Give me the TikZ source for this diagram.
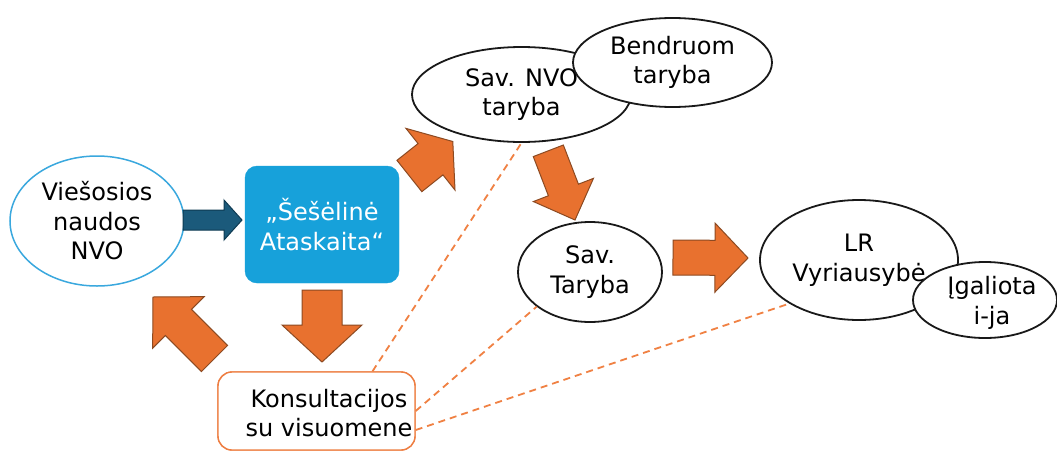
\documentclass[tikz,border=0pt]{standalone}
\usepackage{fontspec}
\setmainfont{DejaVu Sans}
\usetikzlibrary{shapes.geometric,calc}
\definecolor{arrorange}{HTML}{E8712F}
\definecolor{arredge}{HTML}{8C4A22}
\definecolor{navyfill}{HTML}{1B5A7B}
\definecolor{navyedge}{HTML}{0E3A52}
\definecolor{boxblue}{HTML}{17A1DA}
\definecolor{lightblue}{HTML}{3AA8DE}
\definecolor{dashor}{HTML}{F08143}
\definecolor{konsor}{HTML}{EE7E42}
\newcommand\blockarr[6]{% style, tail, tip, half shaft, half head, head length
  \path ($(#3)!#6!(#2)$) coordinate (hb);
  \draw[#1] ($(#2)!#4!90:(#3)$) -- ($(hb)!#4!-90:(#2)$) -- ($(hb)!#5!-90:(#2)$)
    -- (#3) -- ($(hb)!#5!90:(#2)$) -- ($(hb)!#4!90:(#2)$) -- ($(#2)!#4!-90:(#3)$) -- cycle;
}
\tikzset{
  every node/.style={font=\fontsize{24}{29.5}\selectfont, align=center, inner sep=0pt},
  oval/.style={ellipse, draw=black!90, line width=1.8pt, fill=white},
  blueoval/.style={ellipse, draw=lightblue, line width=1.5pt, fill=white},
  bluebox/.style={rectangle, rounded corners=12pt, fill=boxblue, draw=boxblue, text=white},
  konsbox/.style={rectangle, rounded corners=14pt, draw=konsor, line width=1.4pt, fill=white},
  link/.style={draw=dashor, line width=1.8pt, dash pattern=on 7pt off 5pt},
  orangearr/.style={fill=arrorange, draw=arredge, line width=1pt, line join=miter},
  navyarr/.style={fill=navyfill, draw=navyedge, line width=1pt, line join=miter},
}
\begin{document}
\begin{tikzpicture}[x=1pt,y=-1pt]
\useasboundingbox (0,0) rectangle (1057,453);
\fill[white] (0,0) rectangle (1057,453);

% nodes
\node[blueoval, minimum width=174pt, minimum height=130pt] (vnvo) at (97,221) {Viešosios\\naudos\\NVO};
\node[bluebox, minimum width=154pt, minimum height=117pt] (ses) at (322,224.5) {„Šešėlinė\\Ataskaita“};
\node[konsbox, minimum width=197pt, minimum height=78pt] (kons) at (316.5,411) {};
\node[oval, minimum width=219pt, minimum height=95pt] (savnvo) at (521.5,94.5) {Sav. NVO\\taryba};
\node[oval, minimum width=199pt, minimum height=89pt] (bend) at (672.5,62.5) {Bendruom\\taryba};
\node[oval, minimum width=144pt, minimum height=100pt] (savt) at (590,272) {Sav.\\Taryba};
\node[oval, minimum width=198pt, minimum height=120pt] (lr) at (859,260) {LR\\Vyriausybė};
\node[oval, minimum width=144pt, minimum height=76pt] (igal) at (985,300) {};
\node (igaltext) at (992,303) {Įgaliota\\i-ja};

% dashed links
\coordinate (k1) at ([xshift=56pt]kons.north);
\coordinate (k3) at ([yshift=-19pt]kons.east);
\draw[link] (k1) -- (savnvo.south);
\draw[link] (kons.east) -- (savt.213);
\draw[link] (k3) -- (lr.212);

% redraw box over dashed ends
\node[konsbox, minimum width=197pt, minimum height=78pt] at (kons) {};
\node (konstext) at (329,413) {Konsultacijos\\su visuomene};

% block arrows
\coordinate (a1t) at (183,220);   \coordinate (a1h) at (242,220);
\coordinate (a2t) at (322,290);   \coordinate (a2h) at (322,362);
\coordinate (a3t) at (214.5,358.5); \coordinate (a3h) at (153,297);
\coordinate (a4t) at (409.4,176); \coordinate (a4h) at (452.8,141.5);
\coordinate (a5t) at (548.3,150.8); \coordinate (a5h) at (575,220);
\coordinate (a6t) at (673,257.5); \coordinate (a6h) at (748,258);
\blockarr{navyarr}{a1t}{a1h}{10pt}{20pt}{18pt}
\blockarr{orangearr}{a2t}{a2h}{20pt}{40pt}{37pt}
\blockarr{orangearr}{a3t}{a3h}{18.5pt}{36.5pt}{36pt}
\blockarr{orangearr}{a4t}{a4h}{20pt}{39.4pt}{28.5pt}
\blockarr{orangearr}{a5t}{a5h}{16.1pt}{32.2pt}{32.2pt}
\blockarr{orangearr}{a6t}{a6h}{17.5pt}{34.5pt}{33pt}
\end{tikzpicture}
\end{document}
